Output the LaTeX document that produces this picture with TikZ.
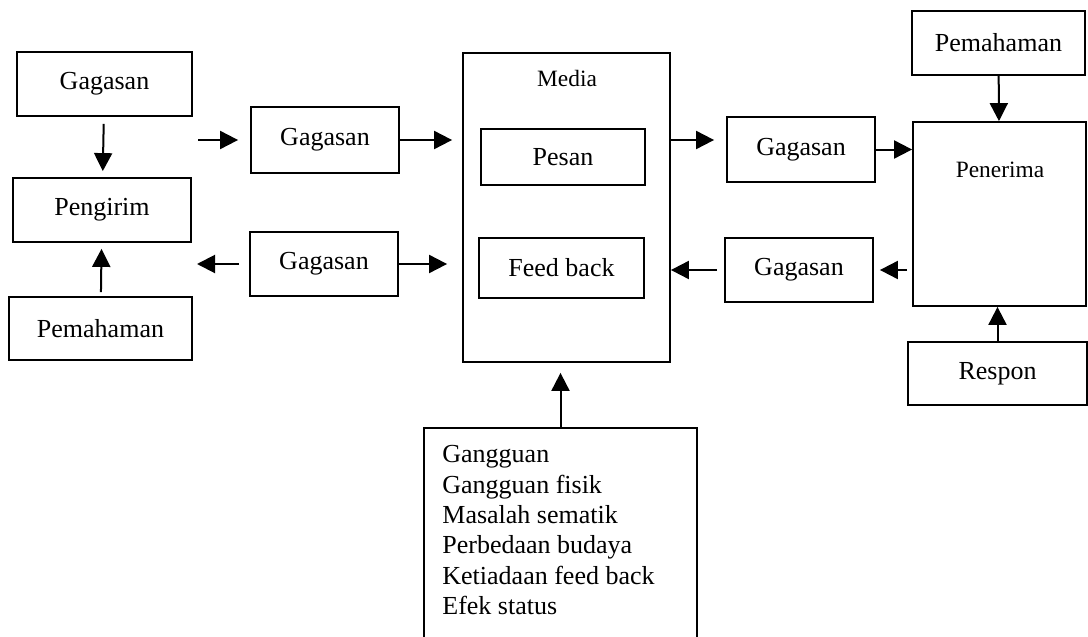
\documentclass[tikz,border=0pt]{standalone}
\usepackage{fontspec}
\setmainfont{Liberation Serif}
\usepackage{tikz}
\usetikzlibrary{
  arrows.meta,
  positioning
}

\begin{document}
\begin{tikzpicture}[
  x=0.5pt, y=-0.5pt,
  box/.style={rectangle, draw, line width=0.9pt, inner sep=0pt, font=\fontsize{13}{15.2}\selectfont},
  caption/.style={inner sep=0pt, font=\fontsize{11.7}{14}\selectfont},
  listing/.style={inner sep=0pt, align=left, font=\fontsize{13}{15.2}\selectfont},
  arr/.style={-{Triangle[length=9pt,width=9pt]}, line width=1pt}
]
  \useasboundingbox (0,0) rectangle (1088,637);

  % sender side
  \node[box, minimum width=87.5pt, minimum height=32pt] (gagA) at (104.5,84) {Gagasan};
  \node[box, minimum width=89pt, minimum height=32pt] (pengirim) at (102,210) {Pengirim};
  \node[box, minimum width=91.5pt, minimum height=31.5pt] (pahamA) at (100.5,328.5) {Pemahaman};

  \node[box, minimum width=74pt, minimum height=33pt] (gagB) at (325,140) {Gagasan};
  \node[box, minimum width=74pt, minimum height=32pt] (gagC) at (324,264) {Gagasan};
  \coordinate (inA) at (198,140);
  \coordinate (outA) at (197,264);

  % media
  \node[box, minimum width=103.5pt, minimum height=154.5pt] (media) at (566.5,207.5) {};
  \node[caption] (medialbl) at (567,78) {Media};
  \node[box, minimum width=82pt, minimum height=28pt] (pesan) at (563,157) {Pesan};
  \node[box, minimum width=82.5pt, minimum height=30pt] (feedback) at (561.5,268) {Feed back};

  % receiver side
  \node[box, minimum width=74pt, minimum height=32.5pt] (gagD) at (801,149.5) {Gagasan};
  \node[box, minimum width=74pt, minimum height=32pt] (gagE) at (799,270) {Gagasan};
  \node[box, minimum width=86.5pt, minimum height=32pt] (pahamB) at (998.5,43) {Pemahaman};
  \node[box, minimum width=86.5pt, minimum height=92pt] (penerima) at (999.5,214) {};
  \node[caption] (penerimalbl) at (1000,170) {Penerima};
  \node[box, minimum width=89.5pt, minimum height=31.5pt] (respon) at (997.5,373.5) {Respon};

  % noise
  \node[box, minimum width=136.5pt, minimum height=108.5pt] (gangguan) at (560.5,536.5) {};
  \node[listing, anchor=north west] (gangguantxt) at (442,445) {Gangguan\\Gangguan fisik\\Masalah sematik\\Perbedaan budaya\\Ketiadaan feed back\\Efek status};

  \draw[arr, shorten <=3.5pt, shorten >=3pt] (gagA) -- (pengirim);
  \draw[arr, shorten <=2pt, shorten >=3pt] (pahamA) -- (pengirim);
  \draw[arr, shorten >=6pt] (inA) -- (gagB);
  \draw[arr, shorten >=5pt] (gagB.east) -- (gagB.east -| media.west);
  \draw[arr, shorten <=5pt] (gagC) -- (outA);
  \draw[arr, shorten >=7.5pt] (gagC.east) -- (gagC.east -| media.west);
  \draw[arr, shorten >=6pt] (media.east |- gagB) -- (gagD.west |- gagB);
  \draw[arr] (gagD.east) -- (gagD.east -| penerima.west);
  \draw[arr, shorten <=3.5pt] (gagE.west) -- (gagE.west -| media.east);
  \draw[arr, shorten <=2.5pt, shorten >=3pt] (gagE.east -| penerima.west) -- (gagE.east);
  \draw[arr] (pahamB) -- (penerima);
  \draw[arr] (respon.north) -- (respon.north |- penerima.south);
  \draw[arr, shorten >=5pt] (gangguan.north) -- (gangguan.north |- media.south);
\end{tikzpicture}
\end{document}
